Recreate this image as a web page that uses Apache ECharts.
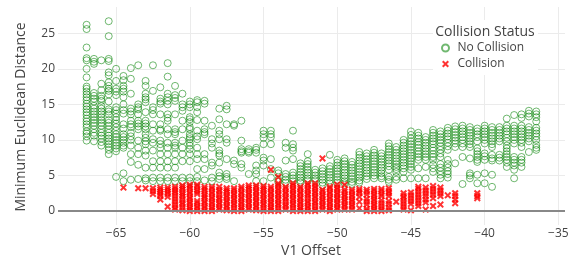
<!DOCTYPE html>
<html>
<head>
<meta charset="utf-8">
<script src="https://cdn.jsdelivr.net/npm/echarts@6/dist/echarts.min.js"></script>
<style>
html, body { margin: 0; padding: 0; background: #fff; }
#chart { width: 573px; height: 260px; }
</style>
</head>
<body>
<div id="chart"></div>
<script>
// V1 offsets (one column of points per offset)
var OFFSETS = [-67, -66.5, -66, -65.5, -65, -64.5, -64, -63.5, -63, -62.5,
	-62, -61.5, -61, -60.5, -60, -59.5, -59, -58.5, -58, -57.5,
	-57, -56.5, -56, -55.5, -55, -54.5, -54, -53.5, -53, -52.5,
	-52, -51.5, -51, -50.5, -50, -49.5, -49, -48.5, -48, -47.5,
	-47, -46.5, -46, -45.5, -45, -44.5, -44, -43.5, -43, -42.5,
	-42, -41.5, -41, -40.5, -40, -39.5, -39, -38.5, -38, -37.5,
	-37, -36.5];

// minimum euclidean distance, no collision
var NO_COLLISION_Y = [
	[26.2, 25.6, 23.0, 21.5, 21.2, 20.0, 18.8, 17.5, 17.2, 16.8, 16.4, 16.0, 15.6, 15.1, 14.7, 14.3, 13.9, 13.5, 13.0, 12.6, 12.2, 11.8, 11.2, 10.9, 10.5, 9.9],
	[21.4, 21.0, 20.7, 16.6, 16.2, 15.8, 15.4, 14.8, 14.4, 14.0, 13.6, 13.2, 12.8, 12.4, 12.0, 11.5, 11.0, 10.6, 9.8],
	[21.2, 17.9, 17.0, 16.2, 15.8, 15.5, 14.8, 14.4, 14.0, 13.6, 13.2, 12.8, 12.4, 12.0, 11.5, 11.0, 10.6, 10.2, 9.7, 9.2],
	[26.7, 24.6, 21.4, 21.1, 19.5, 19.1, 18.1, 17.6, 17.2, 16.9, 16.4, 15.4, 14.3, 14.0, 13.6, 12.8, 12.4, 12.0, 11.5, 11.0, 10.6, 10.2, 9.8, 9.4, 9.0, 8.6, 8.0],
	[20.0, 18.3, 17.2, 16.8, 16.3, 14.6, 14.2, 13.7, 13.2, 12.8, 12.3, 11.8, 11.3, 10.8, 10.4, 10.0, 9.6, 9.2, 8.8, 8.4, 4.8],
	[19.0, 18.4, 17.6, 17.2, 16.8, 16.0, 15.0, 14.2, 13.7, 12.2, 11.6, 10.8, 10.4, 10.0, 9.6, 9.2, 8.9, 5.3, 4.2],
	[20.1, 18.6, 16.5, 14.4, 14.0, 13.6, 12.7, 12.2, 11.8, 11.0, 10.5, 10.0, 9.2, 8.0, 6.9, 4.4],
	[20.5, 15.0, 14.6, 14.3, 13.6, 12.7, 12.3, 11.9, 11.5, 9.9, 8.9, 8.0, 6.5, 4.5],
	[18.3, 17.6, 16.5, 16.0, 15.7, 15.3, 13.9, 12.7, 12.3, 11.9, 11.5, 10.8, 10.3, 9.8, 9.4, 8.5, 7.8, 6.1, 4.6, 4.3],
	[20.5, 16.9, 14.6, 14.2, 13.6, 12.2, 11.3, 10.1, 9.6, 8.5, 7.0, 6.1, 4.7, 4.2],
	[17.4, 15.8, 15.4, 15.1, 13.6, 12.2, 11.5, 11.3, 9.9, 9.4, 8.9, 8.0, 7.0, 6.1, 4.7, 4.2],
	[20.8, 18.9, 16.5, 16.0, 15.5, 15.0, 13.6, 13.1, 12.7, 11.5, 10.8, 9.6, 8.9, 8.0, 7.0, 6.1, 4.7, 4.2],
	[17.6, 16.3, 15.9, 15.5, 13.6, 11.5, 11.1, 10.8, 9.6, 9.2, 8.9, 8.0, 7.0, 6.1, 4.7, 4.2],
	[16.5, 15.0, 14.6, 14.1, 12.7, 11.5, 9.9, 8.9, 8.0, 7.0, 4.7, 4.2],
	[15.4, 15.0, 14.6, 13.2, 12.9, 12.5, 11.8, 11.5, 10.8, 10.4, 10.1, 9.6, 9.2, 8.7, 8.0, 7.0, 4.7, 4.2],
	[15.6, 15.3, 14.6, 13.9, 12.8, 11.3, 10.5, 10.1, 8.9, 8.0, 7.3, 5.9, 4.8, 4.2],
	[15.5, 15.1, 12.7, 11.5, 11.1, 10.8, 8.0, 7.3, 5.9, 4.3],
	[12.0, 10.1, 9.5, 8.9, 6.8, 6.4, 4.7, 4.2],
	[14.4, 12.9, 11.3, 10.8, 10.1, 8.5, 8.1, 7.8, 6.8, 5.4, 4.9, 4.5],
	[14.8, 14.3, 12.2, 10.1, 9.6, 7.3, 5.2, 4.8, 4.5],
	[12.2, 12.0, 7.1, 6.6, 4.2],
	[12.7, 9.9, 8.7, 8.4, 8.2, 6.6, 6.1],
	[8.7, 8.4, 8.2, 5.2],
	[8.9, 8.6, 8.2, 6.4, 5.7, 5.2, 4.2],
	[11.3, 10.8, 10.3, 9.4, 7.5, 7.1, 6.4, 4.2],
	[11.3, 10.8, 10.4, 9.4, 7.3, 5.9, 4.7],
	[5.7, 5.3, 4.4, 4.1],
	[9.6, 8.9, 7.1, 5.2, 4.8, 4.4, 4.0],
	[11.3, 9.4, 8.9, 8.5, 7.3, 5.4, 5.0, 4.6, 4.2],
	[6.7, 6.3, 5.9, 5.5, 5.1, 4.7, 4.3, 4.0],
	[8.0, 7.0, 6.6, 6.2, 5.8, 5.4, 5.0, 4.6, 4.3],
	[5.8, 5.4, 5.0, 4.6, 4.3],
	[6.0, 5.6, 5.2, 4.8, 4.4, 4.0, 3.6],
	[7.9, 6.3, 5.9, 5.5, 5.1, 4.7, 4.3, 3.9],
	[7.2, 6.8, 6.4, 6.0, 5.6, 5.2, 4.8, 4.4, 4.0],
	[7.4, 7.0, 6.6, 6.2, 5.8, 5.4, 5.0, 4.6, 4.2, 3.9],
	[6.9, 6.5, 6.1, 5.7, 5.3, 4.9, 4.5, 4.1, 3.8],
	[8.3, 7.9, 7.5, 7.1, 6.7, 6.3, 5.9, 5.5, 5.1, 4.7, 4.3, 4.0],
	[8.1, 7.7, 7.3, 6.9, 6.5, 6.1, 5.7, 5.3, 4.9, 4.5],
	[8.6, 8.2, 7.8, 7.4, 7.0, 6.6, 6.2, 5.8, 5.4, 5.0, 4.6],
	[8.1, 7.7, 7.3, 6.9, 6.5, 6.1, 5.7, 5.3, 4.9, 4.6],
	[9.5, 9.1, 8.7, 8.3, 7.9, 7.5, 7.1, 6.7, 6.3, 5.8, 4.8, 4.4, 4.1],
	[9.0, 8.6, 8.2, 7.8, 7.4, 7.0, 6.6, 6.2, 5.9, 5.5, 4.8, 4.4],
	[10.0, 9.6, 9.2, 8.8, 8.4, 8.0, 7.6, 7.2, 6.8, 6.4, 6.0, 5.5, 4.6],
	[11.2, 10.7, 10.2, 9.8, 9.4, 9.0, 8.6, 8.2, 7.8, 7.4, 7.0, 6.6, 6.2, 5.8, 4.6],
	[11.0, 10.6, 10.2, 9.7, 9.3, 8.9, 8.4, 8.0, 7.6, 7.2, 6.0, 4.6],
	[10.4, 10.0, 9.6, 9.2, 8.8, 8.4, 8.0, 7.6, 7.2, 6.2, 4.6],
	[11.4, 11.0, 10.6, 10.2, 9.8, 9.4, 8.9, 8.5, 8.0, 7.6, 7.2, 6.5, 6.0, 5.5],
	[11.2, 10.8, 10.4, 10.0, 9.6, 9.1, 8.6, 8.1, 7.6, 6.6, 6.1, 5.6, 5.1, 4.6],
	[11.7, 11.3, 10.9, 10.5, 10.1, 9.6, 9.1, 8.6, 7.2, 6.6, 6.1, 5.6, 5.2, 4.7],
	[11.9, 11.5, 11.1, 10.7, 10.3, 9.9, 9.5, 9.0, 6.7],
	[12.0, 11.6, 11.2, 10.8, 10.4, 10.0, 9.5, 9.0, 7.6, 3.8],
	[11.8, 11.4, 11.0, 10.6, 10.2, 9.8, 9.4, 9.0, 7.4, 5.3, 5.0, 4.6],
	[11.6, 11.2, 10.8, 10.4, 9.8, 8.8, 8.4, 8.0, 7.6, 7.2, 6.9, 5.1, 3.9],
	[12.0, 11.6, 11.2, 10.8, 10.4, 10.0, 9.5, 8.1, 7.7, 7.2, 5.3, 3.9],
	[11.8, 11.4, 11.0, 10.6, 10.2, 9.8, 9.4, 9.0, 7.9, 7.4, 7.1, 5.1, 3.4],
	[11.8, 11.4, 11.0, 10.6, 10.2, 9.8, 7.9, 7.5, 7.1],
	[13.0, 12.0, 11.6, 11.2, 10.8, 10.3, 9.8, 9.2, 8.8, 8.4, 8.0, 7.6, 7.2, 6.8, 6.2],
	[13.5, 12.0, 11.6, 11.2, 10.8, 10.4, 10.0, 9.5, 7.6, 7.2, 6.8, 6.4, 5.8, 4.6],
	[13.6, 13.1, 12.0, 11.6, 11.2, 10.8, 10.4, 10.0, 9.6, 9.0, 7.6, 7.2, 6.8, 6.2],
	[14.1, 13.7, 13.3, 11.8, 11.4, 11.0, 10.6, 10.2, 9.8, 8.3],
	[14.0, 13.6, 13.2, 12.6, 11.7, 11.3, 10.9, 10.5, 10.0, 9.3, 8.9, 8.6]
];

// minimum euclidean distance, collision
var COLLISION_Y = [
	[], [], [], [], [],
	[3.3],
	[],
	[3.2],
	[3.2],
	[3.2, 2.8, 2.4],
	[3.3, 3.0, 2.7, 2.4, 2.1, 1.6],
	[3.3, 3.0, 2.7, 2.4, 2.0, 0.6],
	[3.4, 3.1, 2.8, 2.5, 2.1, 1.7, 1.3, 0.9, 0.5, 0.2],
	[3.6, 3.3, 3.0, 2.6, 2.3, 2.0, 1.6, 1.2, 0.9, 0.5, 0.1],
	[3.7, 3.4, 3.1, 2.7, 2.4, 2.0, 1.7, 1.3, 1.0, 0.6, 0.3, 0.0],
	[3.7, 3.4, 3.0, 2.7, 2.4, 1.4, 1.1, 0.7, 0.4, 0.0],
	[3.4, 3.1, 2.8, 2.4, 2.1, 1.8, 1.4, 1.1, 0.7, 0.4, 0.0],
	[3.4, 3.1, 2.7, 2.4, 2.0, 1.7, 1.3, 1.0, 0.6, 0.3, 0.0],
	[3.4, 3.0, 2.7, 2.3, 1.9, 1.6, 1.2, 0.9, 0.5, 0.2],
	[3.2, 2.9, 2.6, 2.2, 1.9, 1.5, 1.2, 0.8, 0.5, 0.1],
	[3.2, 2.9, 2.5, 2.2, 1.8, 1.5, 1.1, 0.8, 0.4, 0.0],
	[3.4, 3.1, 2.7, 2.4, 2.0, 1.7, 1.3, 1.0, 0.6, 0.3, 0.0],
	[3.6, 3.3, 3.0, 2.6, 2.3, 1.9, 1.6, 1.2, 0.9, 0.5, 0.2],
	[3.6, 3.3, 2.9, 2.6, 2.2, 1.9, 1.5, 1.2, 0.8, 0.5, 0.1],
	[3.5, 3.2, 2.9, 2.5, 2.2, 1.8, 1.5, 1.1, 0.8, 0.4, 0.0],
	[5.8, 3.4, 3.1, 2.7, 2.4, 2.0, 1.7, 1.3, 1.0, 0.6, 0.3, 0.0],
	[4.8, 3.9, 3.6, 3.2, 2.9, 2.5, 2.2, 1.8, 1.5, 1.1, 0.8, 0.4, 0.0],
	[3.4, 3.1, 2.7, 2.4, 2.0, 1.7, 1.3, 0.9, 0.6, 0.2],
	[3.9, 3.6, 3.2, 2.9, 2.5, 2.2, 1.8, 1.5, 1.1, 0.8, 0.4, 0.0],
	[3.4, 3.1, 2.7, 2.4, 2.0, 1.7, 1.3, 1.0, 0.6, 0.3, 0.0],
	[3.9, 3.6, 3.2, 2.9, 2.5, 2.2, 1.8, 1.4, 1.1, 0.7, 0.4, 0.0],
	[3.9, 3.5, 3.2, 2.8, 2.5, 2.1, 1.8, 1.4, 1.1, 0.7, 0.3, 0.0],
	[7.4, 3.0, 2.7, 2.3, 2.0, 1.6, 1.3, 0.9, 0.6, 0.2],
	[3.4, 3.1, 2.7, 2.4, 2.0, 1.7, 1.3, 1.0, 0.6, 0.3, 0.0],
	[3.7, 3.3, 3.0, 2.6, 2.3, 1.9, 1.6, 1.2, 0.9, 0.5, 0.2],
	[3.7, 3.0, 2.7, 2.3, 2.0, 1.6, 1.3, 0.9, 0.6, 0.2],
	[3.0, 2.7, 2.3, 2.0, 1.6, 1.3, 0.9, 0.6, 0.2],
	[3.1, 2.8, 2.5, 2.0, 1.3, 0.4],
	[3.0, 2.7, 2.3, 1.7, 1.3, 0.9, 0.3, 0.0],
	[3.1, 2.8, 2.4, 2.1, 1.7, 1.4, 1.0, 0.7, 0.3, 0.0],
	[3.1, 2.8, 2.4, 2.1, 1.5, 1.1, 0.7, 0.3, 0.0],
	[3.2, 2.8, 2.5, 2.1, 1.4, 1.0, 0.5, 0.1],
	[1.3],
	[2.5, 2.1, 1.8, 1.4, 1.0, 0.6, 0.2],
	[2.6, 2.2, 1.8, 1.4, 1.0, 0.1],
	[3.4, 3.1, 2.7, 2.3, 1.9, 1.5, 1.1, 0.7],
	[3.3, 2.9, 2.5, 2.1, 1.6, 1.2, 0.2],
	[3.5, 3.1, 2.7, 2.3, 1.8, 0.7],
	[3.3, 2.9, 2.5, 2.1, 0.9],
	[2.2],
	[2.5, 2.1, 1.6, 1.1],
	[], [],
	[2.5, 2.1, 1.8],
	[], [], [], [], [], [], [], []
];

var X_TICKS = [-65, -60, -55, -50, -45, -40, -35];
var Y_TICKS = [0, 5, 10, 15, 20, 25];

var FONT = '"Open Sans", verdana, arial, sans-serif';
var INK = '#444';
var X_SHAPE = 'path://M0,2L2,0L5,3L8,0L10,2L7,5L10,8L8,10L5,7L2,10L0,8L3,5Z';

var noCollision = [];
var collision = [];
OFFSETS.forEach(function (x, i) {
	NO_COLLISION_Y[i].forEach(function (y) { noCollision.push([x, y]); });
	COLLISION_Y[i].forEach(function (y) { collision.push([x, y]); });
});

function tickLabel(list) {
	return function (v) {
		var r = Math.round(v);
		if (Math.abs(v - r) > 1e-6 || list.indexOf(r) < 0) return '';
		return String(r).replace('-', '\u2212');
	};
}

var chart = echarts.init(document.getElementById('chart'), null, { renderer: 'canvas' });

chart.setOption({
	animation: false,
	backgroundColor: '#fff',
	textStyle: { fontFamily: FONT },
	grid: { left: 58, right: 8, top: 7, bottom: 35, containLabel: false },
	xAxis: {
		type: 'value',
		min: -68.94,
		max: -34.55,
		splitNumber: 7,
		minInterval: 5,
		maxInterval: 5,
		axisLine: { show: false },
		axisTick: { show: false },
		axisLabel: {
			color: INK, fontSize: 12, fontFamily: FONT, margin: 3,
			showMinLabel: false, showMaxLabel: false,
			formatter: tickLabel(X_TICKS)
		},
		splitLine: { show: true, showMinLine: false, showMaxLine: false, lineStyle: { color: '#ebebeb', width: 1 } }
	},
	yAxis: {
		type: 'value',
		min: -1.97,
		max: 28.7,
		splitNumber: 6,
		minInterval: 5,
		maxInterval: 5,
		axisLine: { show: false },
		axisTick: { show: false },
		axisLabel: {
			color: INK, fontSize: 12, fontFamily: FONT, margin: 3,
			showMinLabel: false, showMaxLabel: false,
			formatter: tickLabel(Y_TICKS)
		},
		splitLine: { show: true, showMinLine: false, showMaxLine: false, lineStyle: { color: '#ebebeb', width: 1 } }
	},
	legend: {
		orient: 'vertical',
		left: 441,
		top: 42,
		padding: 0,
		itemWidth: 8,
		itemHeight: 7,
		itemGap: 4,
		z: 20,
		data: ['No Collision', 'Collision'],
		textStyle: { color: INK, fontSize: 12, fontFamily: FONT, lineHeight: 12, padding: [0, 0, 0, 3] }
	},
	graphic: [
		{ type: 'rect', z: 10, shape: { x: 433, y: 20, width: 105, height: 55 }, style: { fill: '#fff' } },
		{ type: 'text', z: 11, x: 485, y: 32, style: { text: 'Collision Status', fill: INK, font: '14px ' + FONT, textAlign: 'center', textVerticalAlign: 'middle' } },
		{ type: 'text', z: 11, x: 311, y: 251, style: { text: 'V1 Offset', fill: INK, font: '14px ' + FONT, textAlign: 'center', textVerticalAlign: 'middle' } },
		{ type: 'text', z: 11, x: 21, y: 117, rotation: Math.PI / 2, style: { text: 'Minimum Euclidean Distance', fill: INK, font: '14px ' + FONT, textAlign: 'center', textVerticalAlign: 'middle' } }
	],
	series: [
		{
			// zero line behind the markers
			type: 'line',
			data: [],
			z: 1,
			silent: true,
			markLine: {
				silent: true,
				symbol: 'none',
				label: { show: false },
				lineStyle: { color: '#888', width: 2, type: 'solid' },
				data: [{ yAxis: 0 }]
			}
		},
		{
			name: 'No Collision',
			type: 'scatter',
			z: 2,
			symbol: 'circle',
			symbolSize: 7,
			itemStyle: { color: 'rgba(255,255,255,0)', borderColor: 'rgba(0,128,0,0.7)', borderWidth: 1 },
			data: noCollision
		},
		{
			name: 'Collision',
			type: 'scatter',
			z: 3,
			symbol: X_SHAPE,
			symbolSize: 7,
			itemStyle: { color: '#ff0000' },
			data: collision
		}
	]
});
</script>
</body>
</html>
